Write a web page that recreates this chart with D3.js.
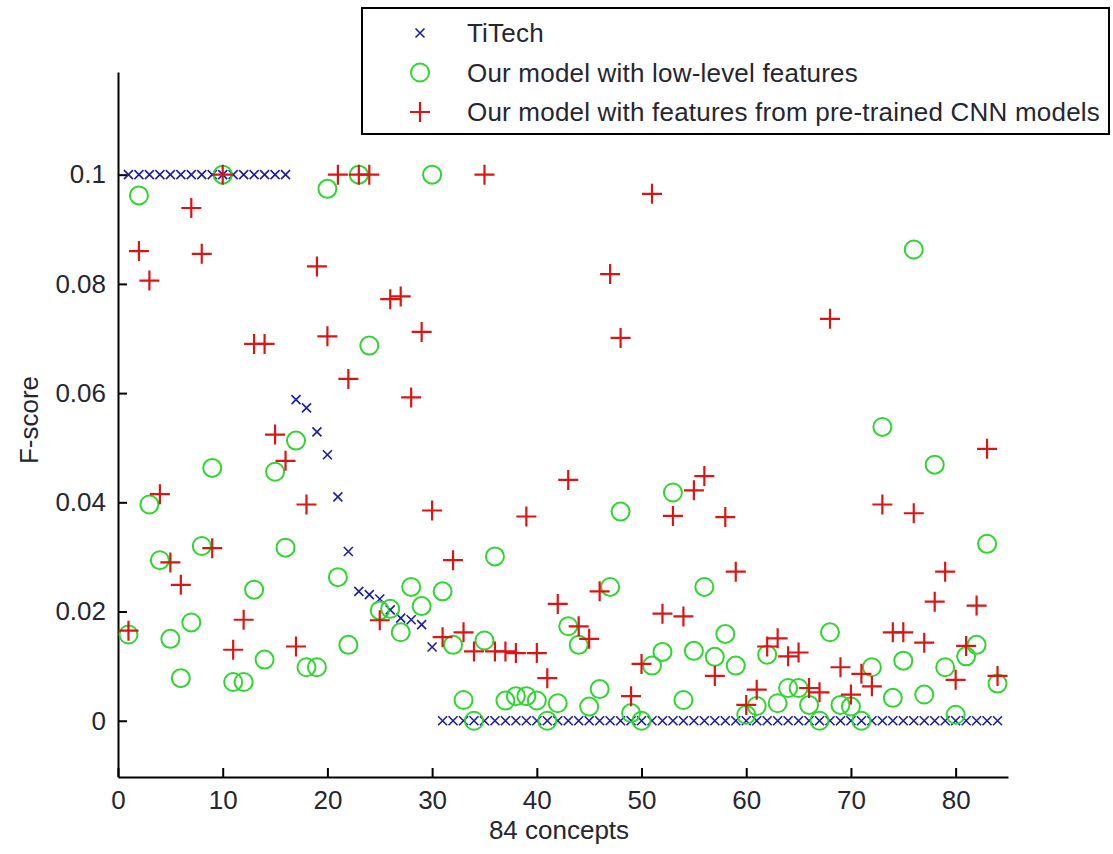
<!DOCTYPE html>
<html>
<head>
<meta charset="utf-8">
<script src="https://cdn.jsdelivr.net/npm/d3@7"></script>
<style>
  body { margin: 0; background: #fff; }
  svg text { font-family: "Liberation Sans", Arial, sans-serif; fill: #262630; }
</style>
</head>
<body>
<div id="chart"></div>
<script>
// Size of the svg
const width = 1113;
const height = 854;

// Concepts 1..84
const concepts = d3.range(1, 85);

// TiTech F-scores
const titech = [
  0.1, 0.1, 0.1, 0.1, 0.1, 0.1, 0.1, 0.1, 0.1, 0.1,
  0.1, 0.1, 0.1, 0.1, 0.1, 0.1, 0.0588, 0.0573, 0.0529, 0.0487,
  0.041, 0.031, 0.0237, 0.0231, 0.0223, 0.0203, 0.0188, 0.0185, 0.0176, 0.0135,
  0, 0, 0, 0, 0, 0, 0, 0, 0, 0,
  0, 0, 0, 0, 0, 0, 0, 0, 0, 0,
  0, 0, 0, 0, 0, 0, 0, 0, 0, 0,
  0, 0, 0, 0, 0, 0, 0, 0, 0, 0,
  0, 0, 0, 0, 0, 0, 0, 0, 0, 0,
  0, 0, 0, 0
];

// Our model with low-level features
const lowLevel = [
  0.0158, 0.0962, 0.0396, 0.0294, 0.015, 0.0078, 0.018, 0.032, 0.0463, 0.1,
  0.0071, 0.0071, 0.024, 0.0112, 0.0456, 0.0317, 0.0513, 0.0098, 0.0098, 0.0974,
  0.0263, 0.0139, 0.1, 0.0687, 0.0202, 0.0205, 0.0162, 0.0245, 0.021, 0.1,
  0.0237, 0.0139, 0.0038, 0, 0.0147, 0.0301, 0.0037, 0.0045, 0.0045, 0.0037,
  0, 0.0032, 0.0173, 0.0139, 0.0026, 0.0058, 0.0245, 0.0383, 0.0014, 0,
  0.0101, 0.0126, 0.0418, 0.0038, 0.0128, 0.0245, 0.0117, 0.0159, 0.0101, 0.0011,
  0.0027, 0.0121, 0.0032, 0.006, 0.006, 0.0029, 0, 0.0162, 0.0029, 0.0026,
  0, 0.0098, 0.0538, 0.0042, 0.011, 0.0863, 0.0048, 0.0469, 0.0098, 0.0011,
  0.0118, 0.0139, 0.0324, 0.0068
];

// Our model with features from pre-trained CNN models
const cnn = [
  0.0165, 0.086, 0.0806, 0.0415, 0.029, 0.0249, 0.0939, 0.0855, 0.0316, 0.1,
  0.013, 0.0185, 0.069, 0.069, 0.0524, 0.0476, 0.0136, 0.0396, 0.0832, 0.0704,
  0.1, 0.0626, 0.1, 0.1, 0.0184, 0.0772, 0.0777, 0.0592, 0.0712, 0.0385,
  0.0153, 0.0294, 0.0162, 0.0127, 0.1, 0.0127, 0.0127, 0.0124, 0.0374, 0.0124,
  0.0078, 0.0214, 0.0441, 0.0173, 0.015, 0.0237, 0.0818, 0.0701, 0.0045, 0.0104,
  0.0965, 0.0196, 0.0375, 0.0191, 0.0422, 0.0448, 0.0082, 0.0373, 0.0273, 0.0029,
  0.0057, 0.0136, 0.0151, 0.0118, 0.0125, 0.006, 0.0052, 0.0736, 0.0098, 0.0048,
  0.0086, 0.0063, 0.0396, 0.0162, 0.0162, 0.038, 0.0143, 0.0218, 0.0273, 0.0075,
  0.0137, 0.0211, 0.0498, 0.0082
];

const xTicks = [0, 10, 20, 30, 40, 50, 60, 70, 80];
const yTicks = [0, 0.02, 0.04, 0.06, 0.08, 0.1];
const legendLabels = [
  "TiTech",
  "Our model with low-level features",
  "Our model with features from pre-trained CNN models"
];

// Marker shapes (MATLAB style x, o, +)
const markX = r => `M${-r},${-r}L${r},${r}M${-r},${r}L${r},${-r}`;
const markPlus = r => `M${-r},0L${r},0M0,${-r}L0,${r}`;

const series = [
  { values: titech, color: "#1c1ca8", kind: "x" },
  { values: lowLevel, color: "#2fd62f", kind: "o" },
  { values: cnn, color: "#dd1414", kind: "+" }
];

const fontSize = 26;

// Scales
const xScale = d3.scaleLinear().domain([0, 85]).range([118, 1008]);
const yScale = d3.scaleLinear().domain([-0.0103, 0.1188]).range([777, 72]);

const svg = d3.select("#chart")
  .append("svg")
  .attr("width", width)
  .attr("height", height);

// Axes, ticks pointing inward
svg.append("g")
  .attr("transform", `translate(0,${yScale.range()[0]})`)
  .call(d3.axisBottom(xScale).tickValues(xTicks).tickSizeInner(-9).tickSizeOuter(0).tickPadding(14))
  .call(g => g.selectAll("text").attr("font-size", fontSize))
  .call(g => g.selectAll("line, path").attr("stroke", "#000").attr("stroke-width", 2));

svg.append("g")
  .attr("transform", `translate(${xScale.range()[0]},0)`)
  .call(d3.axisLeft(yScale).tickValues(yTicks).tickFormat(d => d === 0 ? "0" : d3.format("")(+d.toFixed(2))).tickSizeInner(-9).tickSizeOuter(0).tickPadding(12))
  .call(g => g.selectAll("text").attr("font-size", fontSize))
  .call(g => g.selectAll("line, path").attr("stroke", "#000").attr("stroke-width", 2));

// Axis titles
svg.append("text")
  .attr("x", 559).attr("y", 839)
  .attr("text-anchor", "middle")
  .attr("font-size", fontSize)
  .text("84 concepts");

svg.append("text")
  .attr("transform", "translate(38,420) rotate(-90)")
  .attr("text-anchor", "middle")
  .attr("font-size", fontSize)
  .text("F-score");

// Points: TiTech first, then green circles, then red crosses on top
function drawMarks(g, s, x, y) {
  if (s.kind === "o") {
    g.append("circle").attr("cx", x).attr("cy", y).attr("r", 9)
      .attr("fill", "none").attr("stroke", s.color).attr("stroke-width", 2);
  } else {
    g.append("path")
      .attr("transform", `translate(${x},${y})`)
      .attr("d", s.kind === "x" ? markX(4.5) : markPlus(10))
      .attr("fill", "none").attr("stroke", s.color)
      .attr("stroke-width", s.kind === "x" ? 1.6 : 2.2);
  }
}

series.forEach(s => {
  const g = svg.append("g");
  s.values.forEach((v, i) => drawMarks(g, s, xScale(concepts[i]), yScale(v)));
});

// Legend
const legend = svg.append("g");
legend.append("rect")
  .attr("x", 362).attr("y", 8).attr("width", 747).attr("height", 126)
  .attr("fill", "#fff").attr("stroke", "#000").attr("stroke-width", 2);

legendLabels.forEach((label, i) => {
  const y = 33 + i * 39.5;
  drawMarks(legend, series[i], 420, y);
  legend.append("text")
    .attr("x", 467).attr("y", y)
    .attr("dy", "0.36em")
    .attr("font-size", fontSize)
    .attr("letter-spacing", 0.2)
    .text(label);
});
</script>
</body>
</html>
